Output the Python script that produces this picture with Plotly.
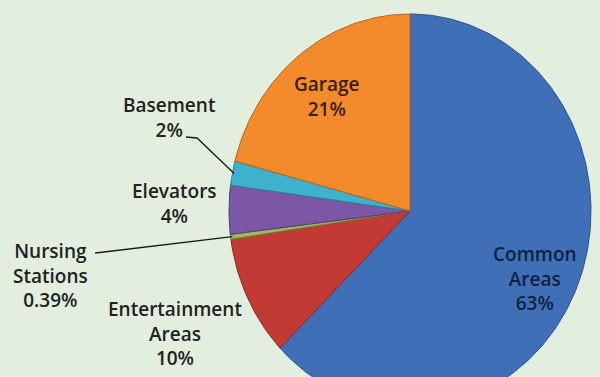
import numpy as np
import plotly.graph_objects as go

# ---- data ----
labels = ["Common<br>Areas", "Entertainment<br>Areas", "Nursing<br>Stations", "Elevators", "Basement", "Garage"]
values = [63, 10, 0.39, 4, 2, 21]
pct_text = ["63%", "10%", "0.39%", "4%", "2%", "21%"]

# ---- style ----
fills = ["#3f6fb6", "#c13b34", "#9bbb59", "#7b57a6", "#3eb2cc", "#f38a2b"]
edges = ["#2c5190", "#8e2824", "#6f8a3d", "#553a78", "#2a8197", "#b8641a"]
text_cols = ["#0e2240", "#222222", "#222222", "#222222", "#222222", "#3a1d05"]
# label anchor positions (pixels) for each slice
label_pos = [(535, 278), (175, 333), (50, 275), (174, 203), (169, 117), (327, 96)]
# leader line start points (None -> no leader)
leader_start = [None, None, [(95, 253), (104, 252)], None, [(186, 137), (197, 138)], None]

W, H = 600, 377
cx, cy, rx, ry = 410, 211, 181, 197

total = sum(values)
fig = go.Figure()

start = 0.0
mids = []
for i, v in enumerate(values):
    a0 = start / total * 2 * np.pi
    a1 = (start + v) / total * 2 * np.pi
    t = np.linspace(a0, a1, max(4, int(v * 4)))
    xs = np.concatenate([[cx], cx + rx * np.sin(t), [cx]])
    ys = np.concatenate([[cy], cy - ry * np.cos(t), [cy]])
    fig.add_trace(go.Scatter(
        x=xs, y=ys, mode="lines", fill="toself", fillcolor=fills[i],
        line=dict(color=edges[i], width=1), hoverinfo="skip", showlegend=False))
    mids.append((a0 + a1) / 2)
    start += v

# leader lines
for i, pts in enumerate(leader_start):
    if pts is None:
        continue
    m = mids[i]
    ex = cx + rx * 0.99 * np.sin(m)
    ey = cy - ry * 0.99 * np.cos(m)
    fig.add_trace(go.Scatter(
        x=[p[0] for p in pts] + [ex], y=[p[1] for p in pts] + [ey],
        mode="lines", line=dict(color="#1a1a1a", width=1.3),
        hoverinfo="skip", showlegend=False))

for i in range(len(values)):
    x, y = label_pos[i]
    fig.add_annotation(
        x=x, y=y, xref="x", yref="y", showarrow=False,
        text=f"{labels[i]}<br>{pct_text[i]}", align="center",
        font=dict(family="Open Sans", size=19, color=text_cols[i], weight=600),
        xanchor="center", yanchor="middle")

fig.update_xaxes(range=[0, W], visible=False, fixedrange=True)
fig.update_yaxes(range=[H, 0], visible=False, fixedrange=True)
fig.update_layout(
    width=W, height=H, margin=dict(l=0, r=0, t=0, b=0),
    paper_bgcolor="#e2efdf", plot_bgcolor="#e2efdf",
)

fig.write_html("out.html")
